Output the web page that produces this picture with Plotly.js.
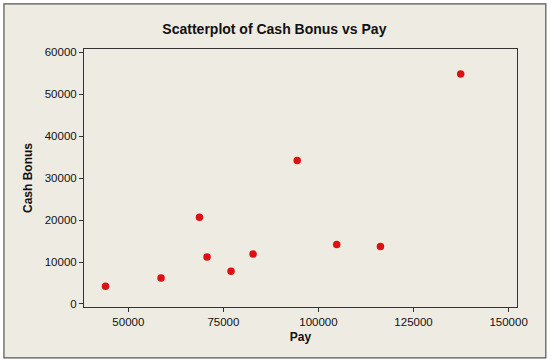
<!DOCTYPE html>
<html>
<head>
<meta charset="utf-8">
<script src="https://cdn.plot.ly/plotly-3.0.1.min.js"></script>
<style>
  html, body { margin: 0; padding: 0; background: #ffffff; }
  #chart { width: 551px; height: 362px; }
</style>
</head>
<body>
<div id="chart"></div>
<script>
// Data
var pay = [44000, 58600, 68700, 70700, 77000, 82800, 94400, 104800, 116300, 137400];
var cashBonus = [4200, 6200, 20700, 11200, 7800, 11900, 34200, 14200, 13700, 54800];
var xTicks = [50000, 75000, 100000, 125000, 150000];
var yTicks = [0, 10000, 20000, 30000, 40000, 50000, 60000];

var fontFam = 'Liberation Sans, Arial, sans-serif';

var trace = {
  type: 'scatter',
  mode: 'markers',
  x: pay,
  y: cashBonus,
  marker: { color: '#DD1111', size: 7.5 },
  hoverinfo: 'x+y'
};

var layout = {
  width: 551,
  height: 362,
  margin: { l: 84, r: 34.3, t: 49, b: 55.3, pad: 0 },
  paper_bgcolor: '#ffffff',
  plot_bgcolor: '#ffffff',
  showlegend: false,
  font: { family: fontFam, size: 11.5, color: '#111111' },
  title: {
    text: '<b>Scatterplot of Cash Bonus vs Pay</b>',
    font: { family: fontFam, size: 14, color: '#111111' },
    x: 0.498, xanchor: 'center',
    y: 0.92, yanchor: 'middle'
  },
  xaxis: {
    range: [38340, 152210],
    tickvals: xTicks,
    ticktext: xTicks.map(String),
    ticks: 'outside', ticklen: 4, tickcolor: '#333333', tickwidth: 1,
    showline: true, mirror: true, linecolor: '#333333', linewidth: 1,
    showgrid: false, zeroline: false,
    tickfont: { family: fontFam, size: 11.5, color: '#111111' },
    title: { text: '<b>Pay</b>', font: { family: fontFam, size: 12, color: '#111111' }, standoff: 5 }
  },
  yaxis: {
    range: [-720, 60790],
    tickvals: yTicks,
    ticktext: yTicks.map(String),
    ticks: 'outside', ticklen: 4, tickcolor: '#333333', tickwidth: 1,
    showline: true, mirror: true, linecolor: '#333333', linewidth: 1,
    showgrid: false, zeroline: false,
    tickfont: { family: fontFam, size: 11.5, color: '#111111' },
    title: { text: '<b>Cash Bonus</b>', font: { family: fontFam, size: 12, color: '#111111' }, standoff: 9 }
  },
  shapes: [{
    type: 'rect', xref: 'paper', yref: 'paper', layer: 'below',
    x0: -0.1849, x1: 1.0666, y0: -0.1971, y1: 1.1746,
    fillcolor: '#EEEBE3',
    line: { color: '#555555', width: 1.2 }
  }]
};

Plotly.newPlot('chart', [trace], layout, { displayModeBar: false, staticPlot: true });
</script>
</body>
</html>
